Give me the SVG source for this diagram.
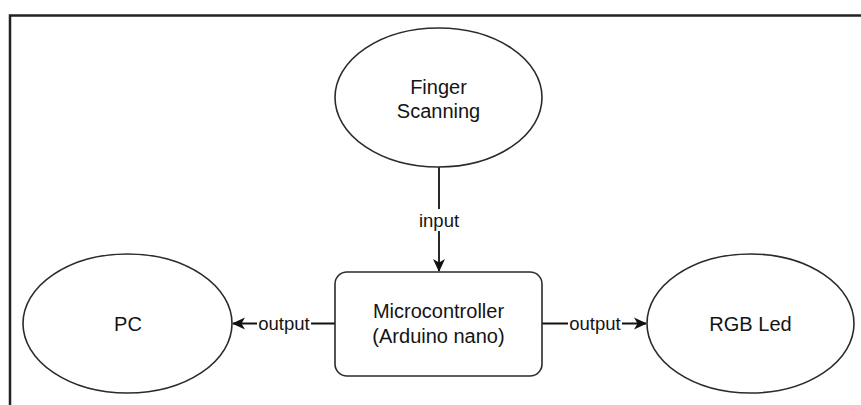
<svg xmlns="http://www.w3.org/2000/svg" width="861" height="405" viewBox="0 0 861 405">
  <style>
    .shape { fill: #ffffff; stroke: #2b2b2b; stroke-width: 1.6; }
    .label { font-family: "Liberation Sans", Arial, sans-serif; font-size: 20px; fill: #141414; text-anchor: middle; dominant-baseline: central; }
    .edge-label { font-family: "Liberation Sans", Arial, sans-serif; font-size: 18.5px; fill: #141414; text-anchor: middle; dominant-baseline: central; }
    .edge { fill: none; stroke: #111111; stroke-width: 1.8; }
    .frame { fill: none; stroke: #222222; stroke-width: 2.5; }
  </style>
  <defs>
    <!-- filled arrowhead with a notched back, drawn in user units -->
    <marker id="arrow" viewBox="0 0 13 13" refX="12" refY="6.5" markerWidth="13" markerHeight="13" markerUnits="userSpaceOnUse" orient="auto">
      <path d="M0,0.5 L13,6.5 L0,12.5 L3.5,6.5 Z" fill="#111111"/>
    </marker>
  </defs>

  <rect width="861" height="405" fill="#ffffff"/>
  <!-- outer frame -->
  <rect class="frame" x="10" y="15.5" width="880" height="420"/>

  <!-- connectors -->
  <g id="connectors">
    <line class="edge" x1="439" y1="167" x2="439" y2="271" marker-end="url(#arrow)"/>
    <rect x="415" y="209" width="48" height="22" fill="#ffffff"/>
    <text class="edge-label" x="439" y="220">input</text>

    <line class="edge" x1="335" y1="323.5" x2="233" y2="323.5" marker-end="url(#arrow)"/>
    <rect x="257" y="313" width="54" height="22" fill="#ffffff"/>
    <text class="edge-label" x="284" y="323.5">output</text>

    <line class="edge" x1="542" y1="323.5" x2="646" y2="323.5" marker-end="url(#arrow)"/>
    <rect x="568" y="313" width="54" height="22" fill="#ffffff"/>
    <text class="edge-label" x="595" y="323.5">output</text>
  </g>

  <g id="finger-scanning">
    <ellipse class="shape" cx="438.5" cy="97.5" rx="103.5" ry="69.5"/>
    <text class="label" x="438.5" y="86.5">Finger</text>
    <text class="label" x="438.5" y="110.5">Scanning</text>
  </g>

  <g id="microcontroller">
    <rect class="shape" x="335" y="272" width="207" height="104" rx="12" ry="12"/>
    <text class="label" x="438.5" y="311">Microcontroller</text>
    <text class="label" x="438.5" y="336">(Arduino nano)</text>
  </g>

  <g id="pc">
    <ellipse class="shape" cx="127.5" cy="323.5" rx="104.5" ry="69.5"/>
    <text class="label" x="128" y="323.5">PC</text>
  </g>

  <g id="rgb-led">
    <ellipse class="shape" cx="750.5" cy="323.5" rx="103.5" ry="69.5"/>
    <text class="label" x="750.5" y="323.5">RGB Led</text>
  </g>
</svg>
